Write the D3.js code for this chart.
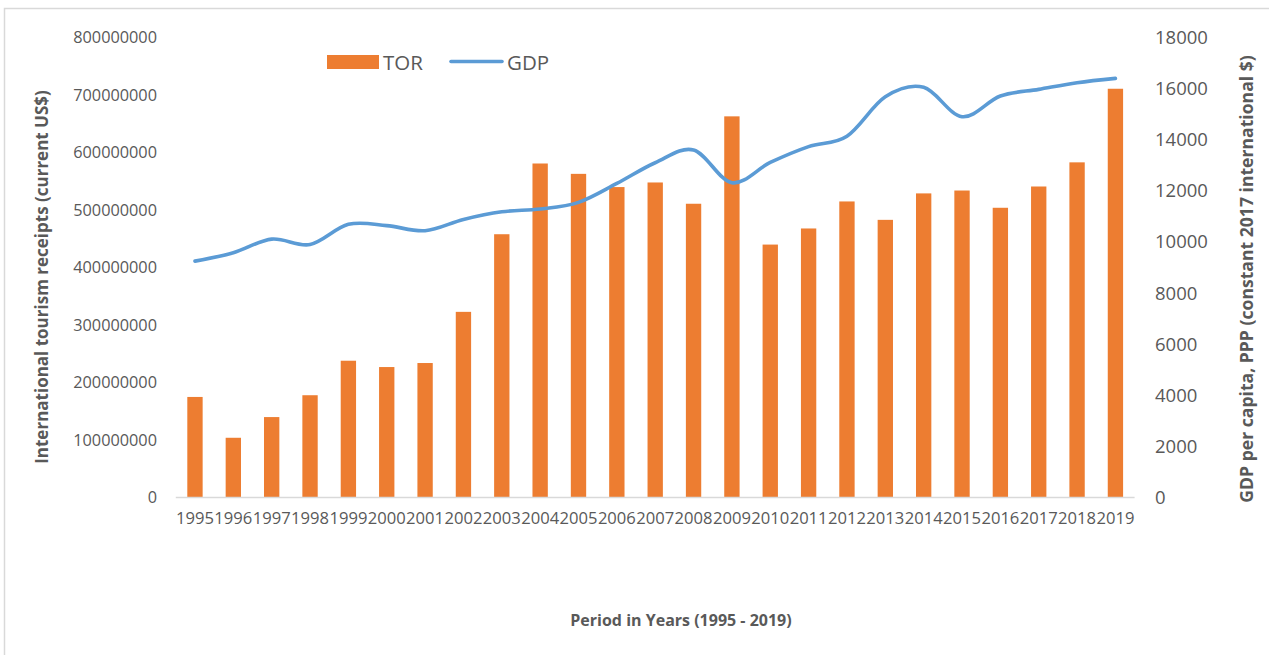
<!DOCTYPE html>
<html>
<head>
<meta charset="utf-8">
<script src="https://cdn.jsdelivr.net/npm/d3@7"></script>
<style>
  html, body { margin: 0; padding: 0; background: #ffffff; }
  svg { display: block; }
  text { font-family: "Open Sans", "Noto Sans", sans-serif; fill: #595959; }
</style>
</head>
<body>
<svg id="chart" width="1269" height="655"></svg>
<script>
// Years on the category axis
const years = ["1995","1996","1997","1998","1999","2000","2001","2002","2003","2004",
               "2005","2006","2007","2008","2009","2010","2011","2012","2013","2014",
               "2015","2016","2017","2018","2019"];

// International tourism receipts (current US$)
const tor = [174e6, 103e6, 139e6, 177e6, 237e6, 226e6, 233e6, 322e6, 457e6, 580e6,
             562e6, 539e6, 547e6, 510e6, 662e6, 439e6, 467e6, 514e6, 482e6, 528e6,
             533e6, 503e6, 540e6, 582e6, 710e6];

// GDP per capita, PPP (constant 2017 international $)
const gdp = [9230, 9560, 10090, 9880, 10670, 10620, 10420, 10860, 11160, 11270,
             11530, 12270, 13080, 13580, 12300, 13090, 13710, 14120, 15660, 16030,
             14880, 15690, 15950, 16210, 16380];

// Tick values for both value axes
const leftTicks = [0, 100000000, 200000000, 300000000, 400000000, 500000000, 600000000, 700000000, 800000000];
const rightTicks = [0, 2000, 4000, 6000, 8000, 10000, 12000, 14000, 16000, 18000];

const svg = d3.select("#chart");

// Outer chart frame
svg.append("path")
  .attr("d", "M4.5,660 L4.5,8.5 L1275,8.5")
  .attr("fill", "none")
  .attr("stroke", "#d9d9d9")
  .attr("stroke-width", 1.5);

const plot = { left: 175.8, right: 1134.6, top: 37, bottom: 497 };

const x = d3.scaleBand()
  .domain(years)
  .range([plot.left, plot.right])
  .paddingInner(0.6)
  .paddingOuter(0.3);

const yL = d3.scaleLinear().domain([0, 800000000]).range([plot.bottom, plot.top]);
const yR = d3.scaleLinear().domain([0, 18000]).range([plot.bottom, plot.top]);

// Bars: tourism receipts
svg.append("g")
  .selectAll("rect")
  .data(tor)
  .join("rect")
  .attr("x", (d, i) => x(years[i]))
  .attr("y", d => yL(d))
  .attr("width", x.bandwidth())
  .attr("height", d => yL(0) - yL(d))
  .attr("fill", "#ed7d31");

// Category baseline
svg.append("line")
  .attr("x1", plot.left).attr("x2", plot.right)
  .attr("y1", plot.bottom + 0.5).attr("y2", plot.bottom + 0.5)
  .attr("stroke", "#d9d9d9")
  .attr("stroke-width", 1.5);

// Smoothed GDP line
const line = d3.line()
  .x((d, i) => x(years[i]) + x.bandwidth() / 2)
  .y(d => yR(d))
  .curve(d3.curveCardinal.tension(0));

svg.append("path")
  .datum(gdp)
  .attr("d", line)
  .attr("fill", "none")
  .attr("stroke", "#5b9bd5")
  .attr("stroke-width", 3.6)
  .attr("stroke-linecap", "round")
  .attr("stroke-linejoin", "round");

// Left value axis labels
const axL = svg.append("g")
  .attr("transform", `translate(157,0)`)
  .call(d3.axisLeft(yL).tickValues(leftTicks).tickSize(0).tickPadding(0).tickFormat(d3.format("d")));
axL.select(".domain").remove();
axL.selectAll("text")
  .attr("font-size", "16.3px")
  .attr("dy", "0.35em")
  .style("font-family", "'Open Sans', sans-serif")
  .attr("fill", "#595959");

// Right value axis labels
const axR = svg.append("g")
  .attr("transform", `translate(1155,0)`)
  .call(d3.axisRight(yR).tickValues(rightTicks).tickSize(0).tickPadding(0).tickFormat(d3.format("d")));
axR.select(".domain").remove();
axR.selectAll("text")
  .attr("font-size", "18.5px")
  .attr("dy", "0.35em")
  .style("font-family", "'Open Sans', sans-serif")
  .attr("fill", "#595959");

// Category axis labels
const axB = svg.append("g")
  .attr("transform", `translate(0,${plot.bottom})`)
  .call(d3.axisBottom(x).tickSize(0).tickPadding(0));
axB.select(".domain").remove();
axB.selectAll("text")
  .attr("font-size", "16.6px")
  .attr("y", 27)
  .attr("dy", 0)
  .style("font-family", "'Open Sans', sans-serif")
  .attr("fill", "#595959");

// Axis titles
svg.append("text")
  .attr("transform", "translate(48,277) rotate(-90)")
  .attr("text-anchor", "middle")
  .attr("font-size", "17px")
  .attr("font-weight", "bold")
  .text("International tourism receipts (current US$)");

svg.append("text")
  .attr("transform", "translate(1253,279) rotate(-90)")
  .attr("text-anchor", "middle")
  .attr("font-size", "17.6px")
  .attr("font-weight", "bold")
  .text("GDP per capita, PPP (constant 2017 international $)");

svg.append("text")
  .attr("x", 681)
  .attr("y", 626)
  .attr("text-anchor", "middle")
  .attr("font-size", "16px")
  .attr("font-weight", "bold")
  .text("Period in Years (1995 - 2019)");

// Legend
const legend = svg.append("g");
legend.append("rect")
  .attr("x", 327).attr("y", 55)
  .attr("width", 52).attr("height", 14)
  .attr("fill", "#ed7d31");
legend.append("text")
  .attr("x", 383).attr("y", 69.5)
  .attr("font-size", "20.5px")
  .text("TOR");
legend.append("line")
  .attr("x1", 451).attr("x2", 502)
  .attr("y1", 61.5).attr("y2", 61.5)
  .attr("stroke", "#5b9bd5")
  .attr("stroke-width", 3.6)
  .attr("stroke-linecap", "round");
legend.append("text")
  .attr("x", 507).attr("y", 69.5)
  .attr("font-size", "20.5px")
  .text("GDP");
</script>
</body>
</html>
